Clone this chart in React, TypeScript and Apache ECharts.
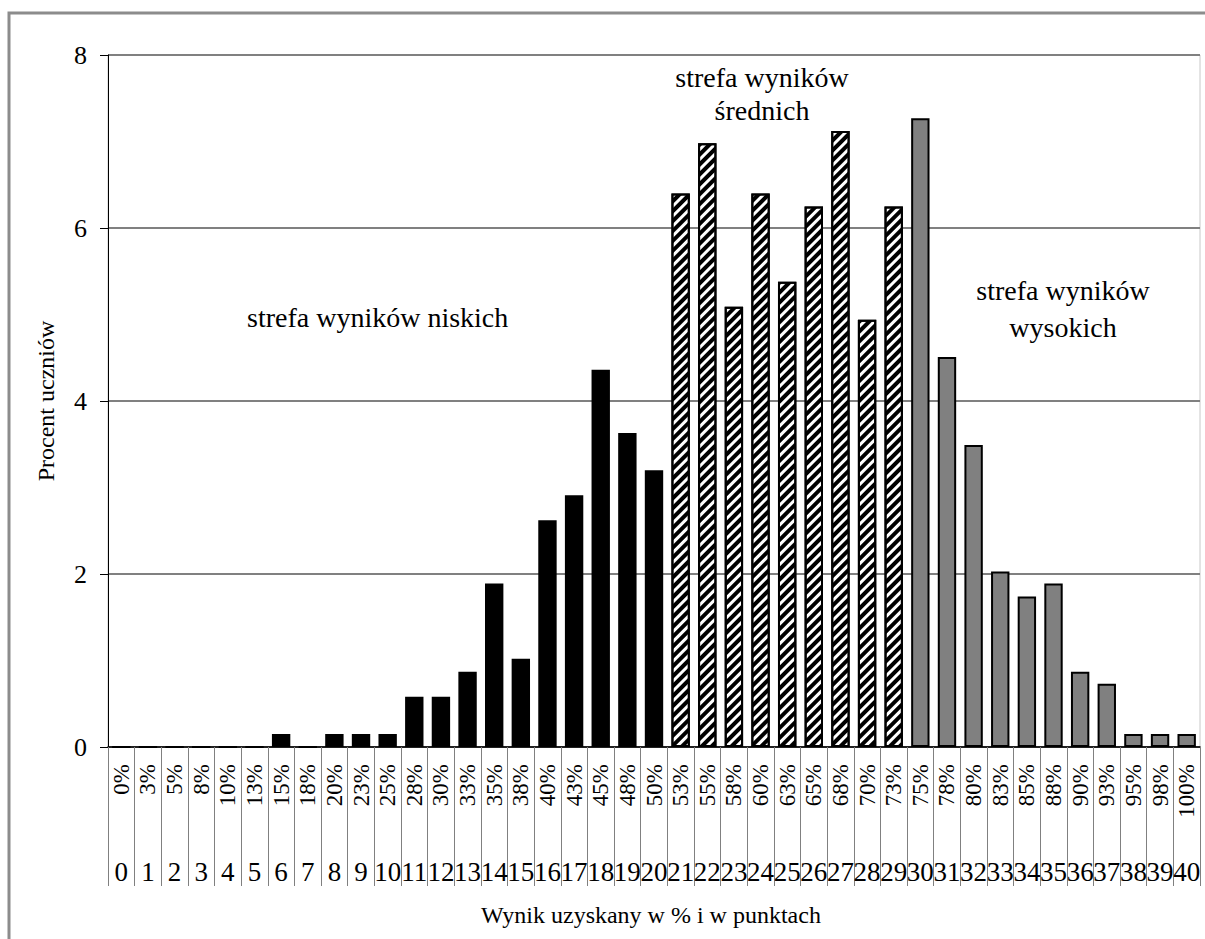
import React, { useEffect, useRef } from "react";
import * as echarts from "echarts";

const pctLabels = ["0%","3%","5%","8%","10%","13%","15%","18%","20%","23%","25%","28%","30%","33%","35%","38%","40%","43%","45%","48%","50%","53%","55%","58%","60%","63%","65%","68%","70%","73%","75%","78%","80%","83%","85%","88%","90%","93%","95%","98%","100%"];
const pointLabels = ["0","1","2","3","4","5","6","7","8","9","10","11","12","13","14","15","16","17","18","19","20","21","22","23","24","25","26","27","28","29","30","31","32","33","34","35","36","37","38","39","40"];

// strefa wyników niskich: 0–20 pkt
const lowValues = [0, 0, 0, 0, 0, 0, 0.15, 0, 0.15, 0.15, 0.15, 0.58, 0.58, 0.87, 1.89, 1.02, 2.62, 2.91, 4.36, 3.63, 3.2];
// strefa wyników średnich: 21–29 pkt
const midValues = [6.4, 6.98, 5.09, 6.4, 5.38, 6.25, 7.12, 4.94, 6.25];
// strefa wyników wysokich: 30–40 pkt
const highValues = [7.27, 4.51, 3.49, 2.03, 1.74, 1.89, 0.87, 0.73, 0.15, 0.15, 0.15];

const yTicks = { min: 0, max: 8, interval: 2 };

const FONT = '"Liberation Serif", "Times New Roman", serif';

export default function App() {
  const ref = useRef<HTMLDivElement>(null);
  useEffect(() => {
    if (!ref.current) return;
    const chart = echarts.init(ref.current, null, { renderer: "svg" });
    const n = pctLabels.length;
    const lowStart = 0;
    const midStart = lowValues.length;
    const highStart = midStart + midValues.length;
    const place = (vals: number[], start: number) => {
      const arr: (number | null)[] = new Array(n).fill(null);
      vals.forEach((v, i) => (arr[start + i] = v));
      return arr;
    };
    const barCommon = {
      type: "bar",
      xAxisIndex: 0,
      yAxisIndex: 0,
      barGap: "-100%",
      barCategoryGap: "31%",
    };
    chart.setOption({
      animation: false,
      textStyle: { fontFamily: FONT, color: "#000" },
      grid: {
        left: 108,
        top: 55,
        width: 1092,
        height: 692,
        show: true,
        borderColor: "#c8c8c8",
        borderWidth: 1,
        backgroundColor: "transparent",
      },
      xAxis: [
        {
          type: "category",
          data: pctLabels,
          position: "bottom",
          axisLine: { show: true, lineStyle: { color: "#000", width: 1.5 } },
          axisTick: { show: true, alignWithLabel: false, length: 139, lineStyle: { color: "#808080", width: 1 } },
          axisLabel: { interval: 0, rotate: 90, margin: 17, fontSize: 23, fontFamily: FONT, color: "#000" },
          splitLine: { show: false },
        },
        {
          type: "category",
          data: pointLabels,
          position: "bottom",
          offset: 0,
          axisLine: { show: false },
          axisTick: { show: false },
          axisLabel: { interval: 0, margin: 111, fontSize: 27, fontFamily: FONT, color: "#000" },
          splitLine: { show: false },
        },
      ],
      yAxis: {
        type: "value",
        min: yTicks.min,
        max: yTicks.max,
        interval: yTicks.interval,
        axisLine: { show: true, lineStyle: { color: "#000", width: 1 } },
        axisTick: { show: true, length: 8, lineStyle: { color: "#000" } },
        axisLabel: { margin: 21, fontSize: 26, fontFamily: FONT, color: "#000" },
        splitLine: { show: true, lineStyle: { color: "#808080", width: 2 } },
      },
      series: [
        {
          ...barCommon,
          name: "strefa wyników niskich",
          data: place(lowValues, lowStart),
          itemStyle: { color: "#000", borderColor: "#000", borderWidth: 2 },
        },
        {
          ...barCommon,
          name: "strefa wyników średnich",
          data: place(midValues, midStart),
          itemStyle: {
            color: "#fff",
            borderColor: "#000",
            borderWidth: 2,
            decal: {
              symbol: "rect",
              symbolSize: 1,
              color: "#000",
              dashArrayX: [1, 0],
              dashArrayY: [3.5, 3],
              rotation: -Math.PI / 4,
            },
          },
        },
        {
          ...barCommon,
          name: "strefa wyników wysokich",
          data: place(highValues, highStart),
          itemStyle: { color: "#808080", borderColor: "#000", borderWidth: 2 },
        },
      ],
      graphic: [
        {
          type: "rect",
          silent: true,
          z: 100,
          shape: { x: 9, y: 13, width: 1400, height: 1200 },
          style: { fill: "none", stroke: "#8c8c8c", lineWidth: 3 },
        },
        {
          type: "text",
          x: 46,
          y: 401,
          rotation: Math.PI / 2,
          style: { text: "Procent uczniów", font: `24px ${FONT}`, fill: "#000", textAlign: "center", textVerticalAlign: "middle" },
        },
        {
          type: "text",
          x: 651,
          y: 915,
          style: { text: "Wynik uzyskany w % i w punktach", font: `24px ${FONT}`, fill: "#000", textAlign: "center", textVerticalAlign: "middle" },
        },
        {
          type: "text",
          x: 247,
          y: 317,
          style: { text: "strefa wyników niskich", font: `28px ${FONT}`, fill: "#000", textAlign: "left", textVerticalAlign: "middle" },
        },
        {
          type: "text",
          x: 762,
          y: 77,
          style: { text: "strefa wyników", font: `28px ${FONT}`, fill: "#000", textAlign: "center", textVerticalAlign: "middle" },
        },
        {
          type: "text",
          x: 762,
          y: 110,
          style: { text: "średnich", font: `28px ${FONT}`, fill: "#000", textAlign: "center", textVerticalAlign: "middle" },
        },
        {
          type: "text",
          x: 1063,
          y: 290,
          style: { text: "strefa wyników", font: `28px ${FONT}`, fill: "#000", textAlign: "center", textVerticalAlign: "middle" },
        },
        {
          type: "text",
          x: 1063,
          y: 327,
          style: { text: "wysokich", font: `28px ${FONT}`, fill: "#000", textAlign: "center", textVerticalAlign: "middle" },
        },
      ],
    });
    return () => chart.dispose();
  }, []);
  return (
    <div
      ref={ref}
      style={{ position: "absolute", left: 0, top: 0, width: 1205, height: 939, background: "#fff" }}
    />
  );
}
